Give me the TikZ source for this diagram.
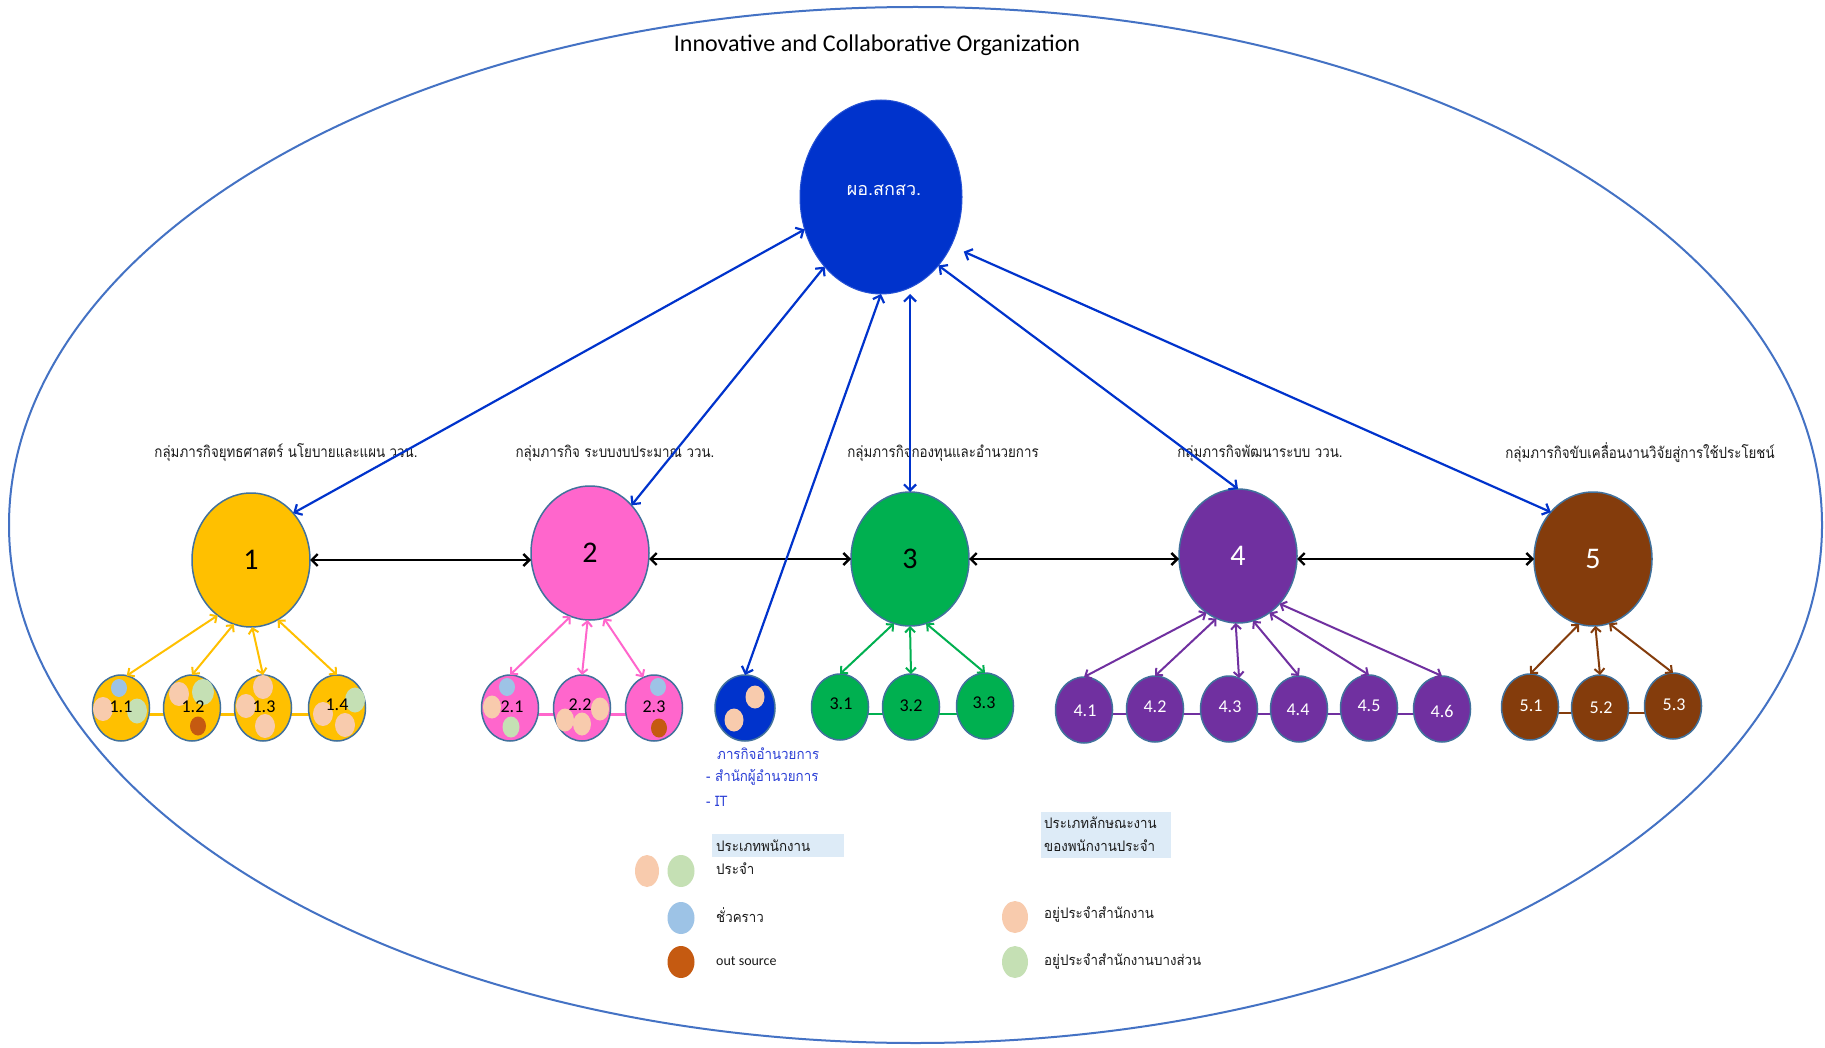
\documentclass[tikz,border=0pt]{standalone}
\usepackage{fontspec}
\usepackage{graphicx}
\setmainfont{Carlito}
\newfontfamily\thai[Script=Thai]{Loma}
\usetikzlibrary{arrows.meta,shapes.geometric}
\definecolor{cY}{HTML}{FFC000}
\definecolor{cP}{HTML}{FF66CC}
\definecolor{cG}{HTML}{00B050}
\definecolor{cV}{HTML}{7030A0}
\definecolor{cB}{HTML}{843C0C}
\definecolor{topblue}{HTML}{0033CC}
\definecolor{edge}{HTML}{41719C}
\definecolor{outerc}{HTML}{4472C4}
\definecolor{peach}{HTML}{F8CBAD}
\definecolor{lgreen}{HTML}{C5E0B4}
\definecolor{lblue}{HTML}{9DC3E6}
\definecolor{orng}{HTML}{C55A11}
\definecolor{legbox}{HTML}{DDEBF7}
\definecolor{bluetxt}{HTML}{2B3FD6}
\definecolor{labtxt}{HTML}{1A1A1A}
\newcommand{\narrow}[2]{\scalebox{#1}[1]{#2}}
\tikzset{
  big/.style={ellipse, draw=edge, line width=1.5pt, inner sep=0pt, outer sep=0pt,
    minimum width=118pt, minimum height=134pt, font=\fontsize{30}{30}\selectfont},
  sub/.style={ellipse, draw=edge, line width=1.5pt, inner sep=0pt, outer sep=0pt,
    minimum width=57pt, minimum height=66pt},
  sublbl/.style={inner sep=0pt, font=\fontsize{18}{18}\selectfont},
  dotP/.style={ellipse, fill=peach, inner sep=0pt, minimum width=20pt, minimum height=24pt},
  dotG/.style={ellipse, fill=lgreen, inner sep=0pt, minimum width=20pt, minimum height=25pt},
  dotB/.style={ellipse, fill=lblue, inner sep=0pt, minimum width=16pt, minimum height=18pt},
  dotO/.style={ellipse, fill=orng, inner sep=0pt, minimum width=16pt, minimum height=19pt},
  legdot/.style={ellipse, inner sep=0pt, minimum width=27pt, minimum height=32pt},
  glabel/.style={inner sep=0pt, text=labtxt, font=\thai\fontsize{15.5}{15.5}\selectfont},
  legtxt/.style={inner sep=0pt, anchor=west, text=labtxt, font=\thai\fontsize{14.5}{14.5}\selectfont},
  bluetext/.style={inner sep=0pt, anchor=west, text=bluetxt, font=\thai\fontsize{14.5}{14.5}\selectfont},
  conn/.style={line width=3pt},
  barr/.style={{Straight Barb[length=6pt,width=12pt]}-{Straight Barb[length=6pt,width=12pt]}, line width=2.4pt, black},
  blarr/.style={{Straight Barb[length=6pt,width=12pt]}-{Straight Barb[length=6pt,width=12pt]}, line width=2.2pt, topblue},
  sarr/.style={{Straight Barb[length=5pt,width=10pt]}-{Straight Barb[length=5pt,width=10pt]}, line width=2pt},
}
\begin{document}
\begin{tikzpicture}[x=1pt,y=-1pt]
\fill[white] (0,0) rectangle (1825,1048);
\useasboundingbox (0,0) rectangle (1825,1048);
% outer ellipse
\draw[outerc, line width=2pt] (915.5,525) ellipse [x radius=906.5pt, y radius=518pt];
% title
\node[inner sep=0pt, font=\fontsize{24}{24}\selectfont] (title) at (877,45) {Innovative and Collaborative Organization};
% group labels
\node[glabel] (L1) at (286,453) {\narrow{0.86}{กลุ่มภารกิจยุทธศาสตร์ นโยบายและแผน ววน.}};
\node[glabel] (L2) at (615,453) {\narrow{0.86}{กลุ่มภารกิจ ระบบงบประมาณ ววน.}};
\node[glabel] (L3) at (943,453) {\narrow{0.86}{กลุ่มภารกิจกองทุนและอำนวยการ}};
\node[glabel] (L4) at (1260,453) {\narrow{0.86}{กลุ่มภารกิจพัฒนาระบบ ววน.}};
\node[glabel] (L5) at (1640,453) {\narrow{0.86}{กลุ่มภารกิจขับเคลื่อนงานวิจัยสู่การใช้ประโยชน์}};

% sub circles - group 1
\coordinate (c1a) at (121,714); \coordinate (c1b) at (337,714);
\draw[conn, cY] (c1a) -- (c1b);
\node[sub, fill=cY] (s11) at (121,708) {};
\node[sub, fill=cY] (s12) at (192,708) {};
\node[sub, fill=cY] (s13) at (263,708) {};
\node[sub, fill=cY] (s14) at (337,708) {};
\node[dotB] (d1) at (119,688) {};
\node[dotP] (d2) at (103,709) {};
\node[dotG] (d3) at (137,711) {};
\node[dotP] (d4) at (179,694) {};
\node[dotG, minimum width=22pt, minimum height=26pt] (d5) at (203,692) {};
\node[dotO] (d6) at (198,726) {};
\node[dotP] (d7) at (263,687) {};
\node[dotP] (d8) at (246,706) {};
\node[dotP] (d9) at (265,726) {};
\node[dotG] (d10) at (355,700) {};
\node[dotP] (d11) at (323,714) {};
\node[dotP] (d12) at (345,725) {};
\node[sublbl] (t11) at (121,707) {1.1};
\node[sublbl] (t12) at (193,707) {1.2};
\node[sublbl] (t13) at (264,707) {1.3};
\node[sublbl] (t14) at (337,705) {1.4};

% group 2
\coordinate (c2a) at (510,714); \coordinate (c2b) at (654,714);
\draw[conn, cP] (c2a) -- (c2b);
\node[sub, fill=cP] (s21) at (510,708) {};
\node[sub, fill=cP] (s22) at (582,708) {};
\node[sub, fill=cP] (s23) at (654,708) {};
\node[dotB] (e1) at (507,687) {};
\node[dotP, minimum width=18pt, minimum height=23pt] (e2) at (492,707) {};
\node[dotG, minimum width=17pt, minimum height=21pt] (e3) at (511,727) {};
\node[dotP, minimum width=18pt, minimum height=23pt] (e4) at (600,709) {};
\node[dotP, minimum width=18pt, minimum height=23pt] (e5) at (565,720) {};
\node[dotP, minimum width=18pt, minimum height=23pt] (e6) at (582,724) {};
\node[dotB] (e7) at (658,687) {};
\node[dotO] (e8) at (659,728) {};
\node[sublbl] (t21) at (512,707) {2.1};
\node[sublbl] (t22) at (580,705) {2.2};
\node[sublbl] (t23) at (654,707) {2.3};

% director circle
\node[sub, fill=topblue, minimum width=60pt] (dir) at (745,708) {};
\node[dotP, minimum width=19pt, minimum height=23pt] (f1) at (755,697) {};
\node[dotP, minimum width=19pt, minimum height=23pt] (f2) at (734,720) {};
\node[bluetext] (b1) at (717,754) {\narrow{0.92}{ภารกิจอำนวยการ}};
\node[bluetext] (b2) at (706,777) {\narrow{0.92}{- สำนักผู้อำนวยการ}};
\node[bluetext] (b3) at (706,801) {\narrow{0.92}{- IT}};

% group 3
\coordinate (c3a) at (840,714); \coordinate (c3b) at (985,714);
\draw[conn, cG, line width=2.5pt] (c3a) -- (c3b);
\node[sub, fill=cG] (s31) at (840,707) {};
\node[sub, fill=cG] (s32) at (911,707) {};
\node[sub, fill=cG] (s33) at (985,706) {};
\node[sublbl] (t31) at (841,704) {3.1};
\node[sublbl] (t32) at (911,706) {3.2};
\node[sublbl] (t33) at (984,703) {3.3};

% group 4
\coordinate (c4a) at (1084,714); \coordinate (c4b) at (1442,714);
\draw[conn, cV, line width=2.5pt] (c4a) -- (c4b);
\node[sub, fill=cV] (s41) at (1084,710) {};
\node[sub, fill=cV] (s42) at (1155,709) {};
\node[sub, fill=cV] (s43) at (1229,709) {};
\node[sub, fill=cV] (s44) at (1299,709) {};
\node[sub, fill=cV] (s45) at (1369,708) {};
\node[sub, fill=cV] (s46) at (1442,709) {};
\node[sublbl, text=white] (t41) at (1085,711) {4.1};
\node[sublbl, text=white] (t42) at (1155,707) {4.2};
\node[sublbl, text=white] (t43) at (1230,707) {4.3};
\node[sublbl, text=white] (t44) at (1298,710) {4.4};
\node[sublbl, text=white] (t45) at (1369,706) {4.5};
\node[sublbl, text=white] (t46) at (1442,711) {4.6};

% group 5
\coordinate (c5a) at (1530,713); \coordinate (c5b) at (1673,713);
\draw[conn, cB, line width=2pt] (c5a) -- (c5b);
\node[sub, fill=cB] (s51) at (1530,707) {};
\node[sub, fill=cB] (s52) at (1600,708) {};
\node[sub, fill=cB] (s53) at (1673,706) {};
\node[sublbl, text=white] (t51) at (1531,706) {5.1};
\node[sublbl, text=white] (t52) at (1601,708) {5.2};
\node[sublbl, text=white] (t53) at (1674,705) {5.3};

% big circles
\node[big, fill=cY] (g1) at (251,560) {1};
\node[big, fill=cP] (g2) at (590,553) {2};
\node[big, fill=cG] (g3) at (910,559) {3};
\node[big, fill=cV, text=white] (g4) at (1238,556) {4};
\node[big, fill=cB, text=white] (g5) at (1593,559) {5};

% top node
\node[ellipse, fill=topblue, draw=topblue!85!white, line width=1pt, inner sep=0pt, outer sep=0pt,
  minimum width=162pt, minimum height=194pt] (top) at (881,197) {};
\node[inner sep=0pt, text=white, font=\thai\fontsize{18}{18}\selectfont] (toplbl) at (884,190) {ผอ.สกสว.};

% legend
\fill[legbox] (712,834) rectangle (844,857);
\node[legtxt] (lg1) at (716,846) {\narrow{0.92}{ประเภทพนักงาน}};
\node[legtxt] (lg2) at (716,869) {\narrow{0.92}{ประจำ}};
\node[legdot, fill=peach, minimum width=24pt] (ld1) at (647,871) {};
\node[legdot, fill=lgreen] (ld2) at (681,871) {};
\node[legdot, fill=lblue] (ld3) at (681,918) {};
\node[legtxt] (lg3) at (716,915) {\narrow{0.92}{ชั่วคราว}};
\node[legdot, fill=orng] (ld4) at (681,962) {};
\node[legtxt, font=\fontsize{14}{14}\selectfont] (lg4) at (716,961) {out source};
\fill[legbox] (1041,812) rectangle (1171,858);
\node[legtxt] (lg5) at (1044,823) {\narrow{0.92}{ประเภทลักษณะงาน}};
\node[legtxt] (lg6) at (1044,846) {\narrow{0.92}{ของพนักงานประจำ}};
\node[legdot, fill=peach, minimum width=26pt] (ld5) at (1015,917) {};
\node[legtxt] (lg7) at (1044,914) {\narrow{0.92}{อยู่ประจำสำนักงาน}};
\node[legdot, fill=lgreen, minimum width=26pt] (ld6) at (1015,962) {};
\node[legtxt] (lg8) at (1044,961) {\narrow{0.92}{อยู่ประจำสำนักงานบางส่วน}};

% black arrows between groups
\draw[barr] (g1.east) -- (g1.east -| g2.west);
\draw[barr] (g3.west -| g2.east) -- (g3.west);
\draw[barr] (g3.east) -- (g3.east -| g4.west);
\draw[barr] (g4.east |- g5.west) -- (g5.west);

% blue arrows from top
\draw[blarr] (top.203) -- (g1.48);
\draw[blarr] (top.231) -- (g2.49);
\draw[blarr] (top.south) -- (dir.north);
\draw[blarr] (g3.north |- top.south) -- (g3.north);
\draw[blarr] (top.-50) -- (g4.north);
\draw[blarr, shorten <=14pt] (top.-35) -- (g5.132);

% sub arrows
\draw[sarr, cY] (g1.239) -- (s11.80);
\draw[sarr, cY] (g1.255) -- (s12.north);
\draw[sarr, cY] (g1.271) -- (s13.north);
\draw[sarr, cY] (g1.294) -- (s14.north);
\draw[sarr, cP] (g2.253) -- (s21.north);
\draw[sarr, cP] (g2.268) -- (s22.north);
\draw[sarr, cP] (g2.282) -- (s23.109);
\draw[sarr, cG] (g3.256) -- (s31.north);
\draw[sarr, cG] (g3.270) -- (s32.north);
\draw[sarr, cG] (g3.284) -- (s33.north);
\draw[sarr, cV] (g4.241) -- (s41.north);
\draw[sarr, cV] (g4.251) -- (s42.north);
\draw[sarr, cV] (g4.268) -- (s43.72);
\draw[sarr, cV] (g4.283) -- (s44.north);
\draw[sarr, cV] (g4.299) -- (s45.north);
\draw[sarr, cV] (g4.311) -- (s46.north);
\draw[sarr, cB] (g5.258) -- (s51.north);
\draw[sarr, cB] (g5.272) -- (s52.north);
\draw[sarr, cB] (g5.284) -- (s53.north);
\end{tikzpicture}
\end{document}
